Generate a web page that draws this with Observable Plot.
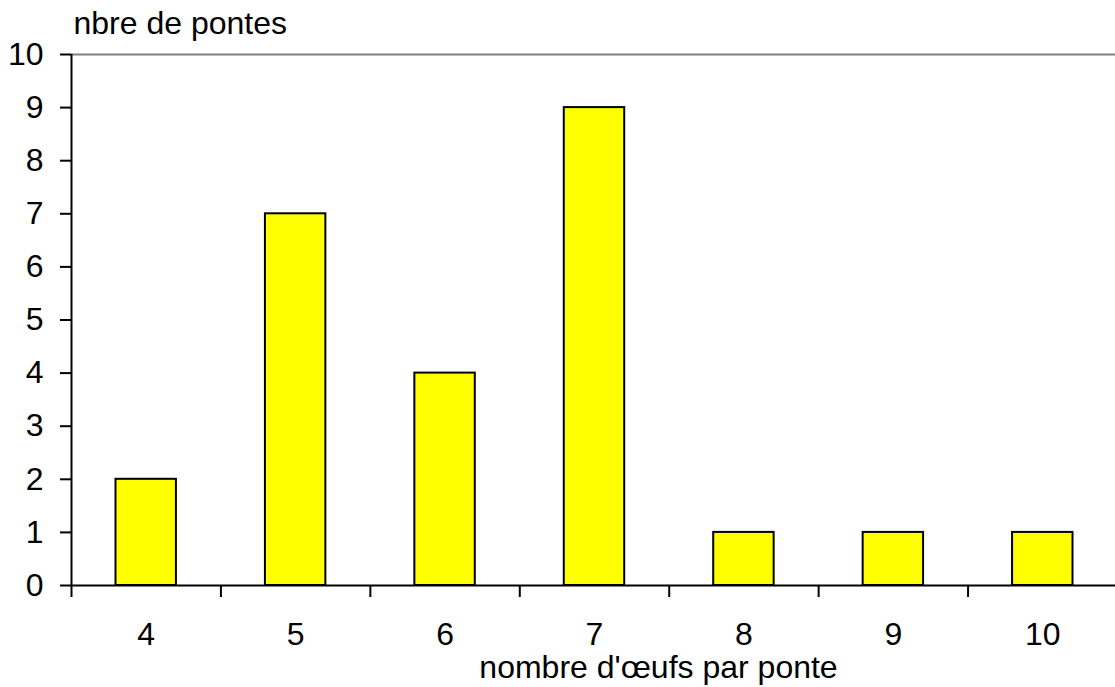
<!DOCTYPE html>
<html>
<head>
<meta charset="utf-8">
<script src="https://cdn.jsdelivr.net/npm/d3@7"></script>
<script src="https://cdn.jsdelivr.net/npm/@observablehq/plot@0.6"></script>
<style>
  html, body { margin: 0; padding: 0; background: #fff; }
  #chart svg { display: block; }
</style>
</head>
<body>
<div id="chart"></div>
<script>
const categories = [4, 5, 6, 7, 8, 9, 10];
const counts = [2, 7, 4, 9, 1, 1, 1];
const yTicks = [0, 1, 2, 3, 4, 5, 6, 7, 8, 9, 10];
const yTitle = "nbre de pontes";
const xTitle = "nombre d'œufs par ponte";

const data = categories.map((c, i) => ({c, n: counts[i]}));
const boundaries = categories.map(c => c - 0.5);
const font = "'Liberation Sans', Arial, Helvetica, sans-serif";

const chart = Plot.plot({
  width: 1115,
  height: 687,
  marginLeft: 71,
  marginRight: 0,
  marginTop: 54,
  marginBottom: 102,
  style: {fontFamily: font, fontSize: "32px", color: "#000", background: "#fff"},
  x: {domain: [categories[0] - 0.5, categories[categories.length - 1] + 0.5], range: [71, 1117]},
  y: {domain: [0, 10]},
  marks: [
    Plot.ruleY([10], {stroke: "#808080", strokeWidth: 2}),
    Plot.rectY(data, {x1: d => d.c - 0.5, x2: d => d.c + 0.5, y: "n", insetLeft: 44.5, insetRight: 44.5,
      fill: "#FFFF00", stroke: "#000", strokeWidth: 2}),
    Plot.ruleY([0], {stroke: "#000", strokeWidth: 2}),
    Plot.ruleX([boundaries[0]], {y1: 0, y2: 10, stroke: "#000", strokeWidth: 2}),
    Plot.axisY({ticks: yTicks, tickSize: 11, tickPadding: 17, tickFormat: d => String(d),
      stroke: "#000", strokeWidth: 2, strokeOpacity: 1, fontSize: 32, label: null}),
    Plot.axisX({ticks: boundaries, tickSize: 12, tickFormat: () => "", stroke: "#000",
      strokeWidth: 2, strokeOpacity: 1, label: null}),
    Plot.axisX({ticks: categories, tickSize: 0, tickPadding: 37, tickFormat: d => String(d),
      fontSize: 32, label: null}),
    Plot.text([yTitle], {frameAnchor: "top-left", dx: 2, dy: -21, textAnchor: "start",
      lineAnchor: "bottom", fontSize: 32, fill: "#000"}),
    Plot.text([xTitle], {frameAnchor: "bottom", dx: 65, dy: 92, lineAnchor: "bottom",
      fontSize: 32, fill: "#000"})
  ]
});
document.getElementById("chart").appendChild(chart);
</script>
</body>
</html>
